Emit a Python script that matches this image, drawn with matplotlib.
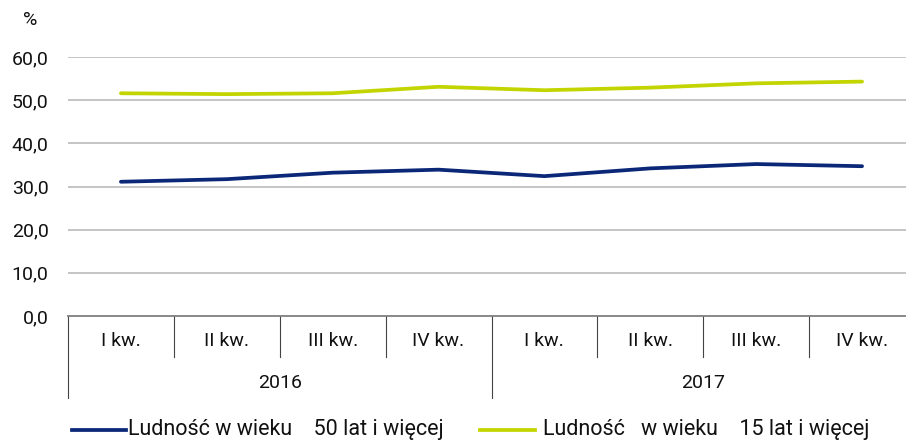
import matplotlib
matplotlib.use('Agg')
import matplotlib.pyplot as plt
import matplotlib.transforms as mtrans
from matplotlib.lines import Line2D

# data
quarters = ["I kw.", "II kw.", "III kw.", "IV kw.", "I kw.", "II kw.", "III kw.", "IV kw."]
years = ["2016", "2017"]
age50 = [31.1, 31.7, 33.2, 33.9, 32.4, 34.2, 35.2, 34.7]
age15 = [51.6, 51.4, 51.6, 53.1, 52.3, 52.9, 53.9, 54.3]
yticks = [0, 10, 20, 30, 40, 50, 60]

navy = "#0b2777"
lime = "#c3d500"
grid = "#bfbfbf"
txt = "#111111"
fs = 14
plt.rcParams['font.family'] = ['Roboto', 'DejaVu Sans']
plt.rcParams['font.size'] = fs

fig = plt.figure(figsize=(9.06, 4.41), dpi=100)
ax = fig.add_axes([68/906, 1 - 316/441, (915 - 68)/906, (316 - 57)/441])

x = list(range(len(quarters)))
ax.plot(x, age50, color=navy, lw=2.7, solid_capstyle='round')
ax.plot(x, age15, color=lime, lw=2.7, solid_capstyle='round')

ax.set_xlim(-0.5, len(quarters) - 0.5)
ax.set_ylim(0, 60)
ax.set_yticks(yticks)
ax.set_yticklabels([f"{v:.1f}".replace(".", ",") for v in yticks], color=txt)
ax.tick_params(axis='y', length=0, pad=14, labelsize=fs)
ax.tick_params(axis='x', length=0, labelbottom=False)
for v in yticks[1:]:
    ax.axhline(v, color=grid, lw=1.3, zorder=0)
for s in ['top', 'right', 'left']:
    ax.spines[s].set_visible(False)
ax.spines['bottom'].set_color("#7f7f7f")
ax.spines['bottom'].set_linewidth(1.3)

# two-level category axis
tr = mtrans.blended_transform_factory(ax.transData, ax.transAxes)
h = 259.0
q_len = 41 / h
y_len = 82 / h
for i in range(len(quarters) + 1):
    edge = i - 0.5
    ln = y_len if i % 4 == 0 else q_len
    ax.add_line(Line2D([edge, edge], [0, -ln], transform=tr, color="#444444",
                       lw=0.8, clip_on=False))
for i, q in enumerate(quarters):
    ax.text(i, -25 / h, q, transform=tr, ha='center', va='center',
            fontsize=fs, color=txt)
for j, yr in enumerate(years):
    ax.text(j * 4 + 1.5, -67 / h, yr, transform=tr, ha='center', va='center',
            fontsize=fs, color=txt)

fig.text(30/906, 1 - 20/441, "%", ha='center', va='center', fontsize=fs, color=txt)

# legend drawn by hand to keep the spacing
lfs = 15.5
ly = 1 - 430/441
fig.add_artist(Line2D([72/906, 126/906], [ly, ly], color=navy, lw=2.7))
fig.text(128/906, ly, "Ludność w wieku    50 lat i więcej", ha='left', va='center',
         fontsize=lfs, color=txt)
fig.add_artist(Line2D([480/906, 535/906], [ly, ly], color=lime, lw=2.7))
fig.text(543/906, ly, "Ludność   w wieku    15 lat i więcej", ha='left', va='center',
         fontsize=lfs, color=txt)

fig.savefig("out.png", dpi=100)
